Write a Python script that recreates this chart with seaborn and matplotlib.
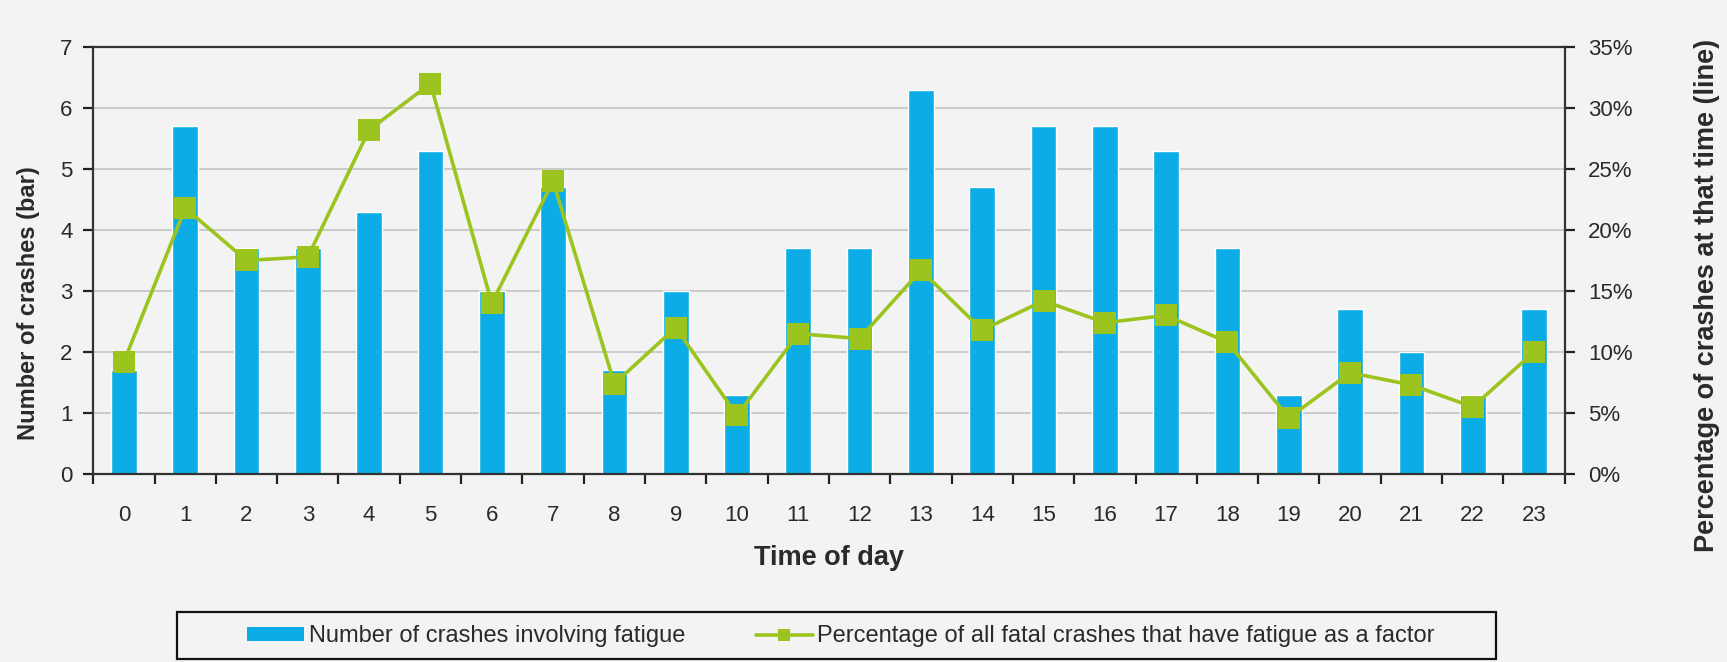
import numpy as np
import matplotlib
matplotlib.use('Agg')
import matplotlib.pyplot as plt
from matplotlib.ticker import FixedLocator, PercentFormatter
from matplotlib.lines import Line2D
from matplotlib.patches import Rectangle, Patch
import seaborn as sns
import pandas as pd

#%% data

hours = list(range(24))
crashes = [1.7, 5.7, 3.7, 3.7, 4.3, 5.3, 3.0, 4.7, 1.7, 3.0, 1.3, 3.7,
           3.7, 6.3, 4.7, 5.7, 5.7, 5.3, 3.7, 1.3, 2.7, 2.0, 1.3, 2.7]
pct_fatigue = [9.2, 21.8, 17.5, 17.8, 28.2, 32.0, 14.0, 24.0, 7.4, 12.0, 4.8, 11.5,
               11.1, 16.7, 11.8, 14.2, 12.4, 13.0, 10.8, 4.6, 8.3, 7.3, 5.5, 10.0]

bar_label = 'Number of crashes involving fatigue'
line_label = 'Percentage of all fatal crashes that have fatigue as a factor'

BLUE = '#0cade6'
GREEN = '#9cc41f'
BG = '#f3f3f3'
TXT = '#2a2a2a'

df = pd.DataFrame({'hour': hours, 'crashes': crashes, 'pct': pct_fatigue})

#%% plot

sns.set_theme(style='white')
plt.rcParams['font.family'] = ['Liberation Sans', 'DejaVu Sans']

fig = plt.figure(figsize=(17.27, 6.62), dpi=100, facecolor=BG)
ax = fig.add_axes([0.054, 0.284, 0.852, 0.645], facecolor=BG)

sns.barplot(data=df, x='hour', y='crashes', color=BLUE, width=0.42,
            saturation=1, ax=ax, zorder=2)

ax.set_ylim(0, 7)
ax.set_xlim(-0.5, 23.5)
ax.set_yticks(range(8))
ax.yaxis.grid(True, color='#c4c4c4', lw=1.2, zorder=0)
ax.set_axisbelow(True)

# excel-like ticks between the categories
ax.xaxis.set_minor_locator(FixedLocator(np.arange(-0.5, 24, 1)))
ax.tick_params(axis='x', which='major', length=0, pad=22, labelsize=16, colors=TXT)
ax.tick_params(axis='x', which='minor', length=7, width=1.6, color='#222222', bottom=True)
ax.tick_params(axis='y', length=7, width=1.6, color='#222222', left=True, labelsize=16,
               labelcolor=TXT, pad=8)

for s in ['left', 'bottom', 'top']:
    ax.spines[s].set_color('#333333')
    ax.spines[s].set_linewidth(1.6)
ax.spines['right'].set_visible(False)

ax.set_xlabel('Time of day', fontsize=19.5, fontweight='bold', color=TXT)
ax.xaxis.set_label_coords(0.5, -0.166)
ax.set_ylabel('Number of crashes (bar)', fontsize=17, fontweight='bold', color=TXT)
ax.yaxis.set_label_coords(-0.036, 0.40)

ax2 = ax.twinx()
sns.lineplot(data=df, x='hour', y='pct', color=GREEN, lw=2.6, marker='s',
             markersize=15.5, markeredgewidth=0, ax=ax2, zorder=3)
ax2.set_ylim(0, 35)
ax2.set_yticks(range(0, 36, 5))
ax2.yaxis.set_major_formatter(PercentFormatter(decimals=0))
ax2.tick_params(axis='y', length=7, width=1.6, color='#222222', right=True, labelsize=16,
                labelcolor=TXT, pad=10)
ax2.spines['right'].set_color('#333333')
ax2.spines['right'].set_linewidth(1.6)
for s in ['left', 'bottom', 'top']:
    ax2.spines[s].set_visible(False)
ax2.set_ylabel('Percentage of crashes at that time (line)', fontsize=19.5,
               fontweight='bold', color=TXT)
ax2.yaxis.set_label_coords(1.088, 0.418)
ax2.set_xlabel('')

# legend: proxies with a small marker like the original, box drawn separately
handles = [Patch(facecolor=BLUE, edgecolor='none'),
           Line2D([], [], color=GREEN, lw=2.6, marker='s', markersize=8.5, markeredgewidth=0)]
leg = fig.legend(handles, [bar_label, line_label], loc='center', ncol=2,
                 bbox_to_anchor=(0.487, 0.039), frameon=False, fontsize=17,
                 handlelength=2.4, handleheight=0.5, handletextpad=0.2,
                 columnspacing=3.0, labelcolor=TXT)
fig.patches.append(Rectangle((0.1025, 0.004), 0.7635, 0.0715, transform=fig.transFigure,
                             facecolor='none', edgecolor='#111111', lw=1.6))

fig.savefig('out.png', dpi=100, facecolor=BG)
